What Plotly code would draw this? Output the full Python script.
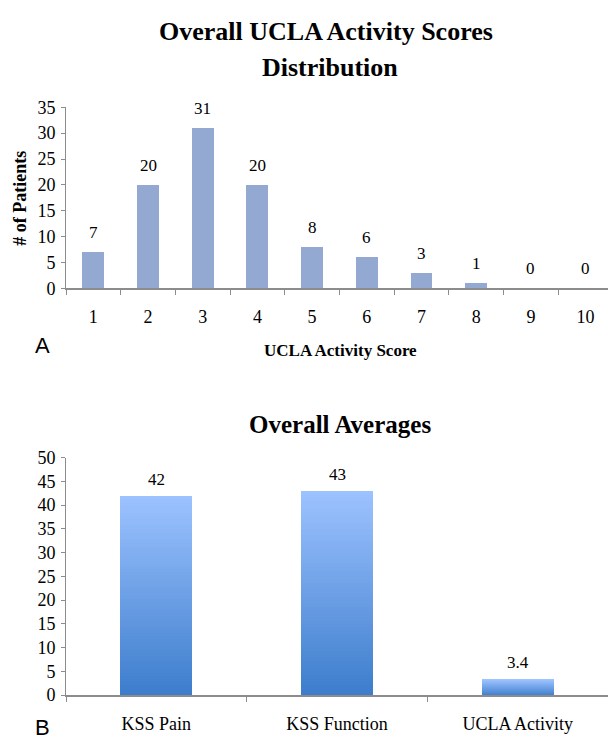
import plotly.graph_objects as go

# ---- data ----
ucla_scores = [1, 2, 3, 4, 5, 6, 7, 8, 9, 10]
patients = [7, 20, 31, 20, 8, 6, 3, 1, 0, 0]

avg_labels = ["KSS Pain", "KSS Function", "UCLA Activity"]
avg_values = [42, 43, 3.4]
avg_text = ["42", "43", "3.4"]

SERIF = "Liberation Serif, Times New Roman, serif"
SANS = "Liberation Sans, Arial, sans-serif"
AXIS_COLOR = "#8c8c8c"

fig = go.Figure()

# Top chart
fig.add_trace(go.Bar(
    x=ucla_scores, y=patients, width=0.4,
    marker=dict(color="#94a9d2", line=dict(width=0)),
    xaxis="x", yaxis="y", showlegend=False, hoverinfo="skip",
))

# Bottom chart: gradient bars built from stacked slices of each value
N = 60
top_rgb = (156, 194, 255)
bot_rgb = (61, 125, 204)
for i in range(N):
    t = i / (N - 1)
    c = tuple(round(bot_rgb[k] + (top_rgb[k] - bot_rgb[k]) * t) for k in range(3))
    fig.add_trace(go.Bar(
        x=avg_labels, y=[v / N for v in avg_values], width=0.4,
        marker=dict(color="rgb(%d,%d,%d)" % c, line=dict(width=0)),
        xaxis="x2", yaxis="y2", showlegend=False, hoverinfo="skip",
    ))

annotations = []
for xv, yv in zip(ucla_scores, patients):
    annotations.append(dict(x=xv, y=yv, xref="x", yref="y", text=str(yv),
                            showarrow=False, yanchor="bottom", yshift=8,
                            font=dict(family=SERIF, size=17, color="black")))
for xv, yv, tx in zip(avg_labels, avg_values, avg_text):
    annotations.append(dict(x=xv, y=yv, xref="x2", yref="y2", text=tx,
                            showarrow=False, yanchor="bottom", yshift=5,
                            font=dict(family=SERIF, size=17, color="black")))

H = 747.0
def py(px):
    return 1 - px / H

annotations += [
    dict(x=326 / 608, y=py(22), xref="paper", yref="paper", text="<b>Overall UCLA Activity Scores</b>",
         showarrow=False, xanchor="center", yanchor="middle",
         font=dict(family=SERIF, size=26, color="black")),
    dict(x=330 / 608, y=py(59), xref="paper", yref="paper", text="<b>Distribution</b>",
         showarrow=False, xanchor="center", yanchor="middle",
         font=dict(family=SERIF, size=26, color="black")),
    dict(x=340 / 608, y=py(350), xref="paper", yref="paper", text="<b>UCLA Activity Score</b>",
         showarrow=False, xanchor="center", yanchor="middle",
         font=dict(family=SERIF, size=17, color="black")),
    dict(x=20 / 608, y=py(194), xref="paper", yref="paper", text="<b># of Patients</b>",
         showarrow=False, xanchor="center", yanchor="middle", textangle=-90,
         font=dict(family=SERIF, size=18, color="black")),
    dict(x=42 / 608, y=py(345), xref="paper", yref="paper", text="A",
         showarrow=False, xanchor="center", yanchor="middle",
         font=dict(family=SANS, size=22, color="black")),
    dict(x=340 / 608, y=py(426), xref="paper", yref="paper", text="<b>Overall Averages</b>",
         showarrow=False, xanchor="center", yanchor="middle",
         font=dict(family=SERIF, size=25, color="black")),
    dict(x=42 / 608, y=py(737), xref="paper", yref="paper", text="B",
         showarrow=False, xanchor="center", yanchor="middle",
         font=dict(family=SANS, size=22, color="black")),
]

tickfont = dict(family=SERIF, size=18, color="black")

fig.update_layout(
    width=608, height=747,
    margin=dict(l=0, r=0, t=0, b=0),
    paper_bgcolor="white", plot_bgcolor="white",
    barmode="stack", bargap=0,
    annotations=annotations,
    xaxis=dict(domain=[66 / 608, 1.0], anchor="y", range=[0.5, 10.41],
               tickmode="array", tickvals=ucla_scores, ticktext=[str(s) for s in ucla_scores],
               showline=True, linecolor=AXIS_COLOR, linewidth=2, ticks="",
               showgrid=False, zeroline=False, tickfont=tickfont, ticklabelstandoff=11,
               minor=dict(tickmode="array", tickvals=[s + 0.5 for s in ucla_scores[:-1]] + [0.5],
                          ticks="outside", ticklen=5, tickcolor=AXIS_COLOR, tickwidth=1, showgrid=False)),
    yaxis=dict(domain=[py(286), py(100)], anchor="x", range=[0, 35], dtick=5,
               showline=True, linecolor=AXIS_COLOR, linewidth=1, ticks="outside",
               ticklen=4, tickcolor=AXIS_COLOR, showgrid=False, zeroline=False,
               tickfont=tickfont, ticklabelstandoff=2),
    xaxis2=dict(domain=[66 / 608, 1.0], anchor="y2", range=[-0.5, 2.5],
                showline=True, linecolor=AXIS_COLOR, linewidth=2, ticks="",
                showgrid=False, zeroline=False, tickfont=tickfont, ticklabelstandoff=11,
                minor=dict(tickmode="array", tickvals=[-0.5, 0.5, 1.5, 2.5],
                           ticks="outside", ticklen=5, tickcolor=AXIS_COLOR, tickwidth=1, showgrid=False)),
    yaxis2=dict(domain=[py(704), py(460)], anchor="x2", range=[0, 50], dtick=5,
                showline=True, linecolor=AXIS_COLOR, linewidth=1, ticks="outside",
                ticklen=4, tickcolor=AXIS_COLOR, showgrid=False, zeroline=False,
                tickfont=tickfont, ticklabelstandoff=2),
)

fig.write_html("out.html", config={"displayModeBar": False},
               post_script="document.body.style.margin='0';document.body.style.overflow='hidden';")
